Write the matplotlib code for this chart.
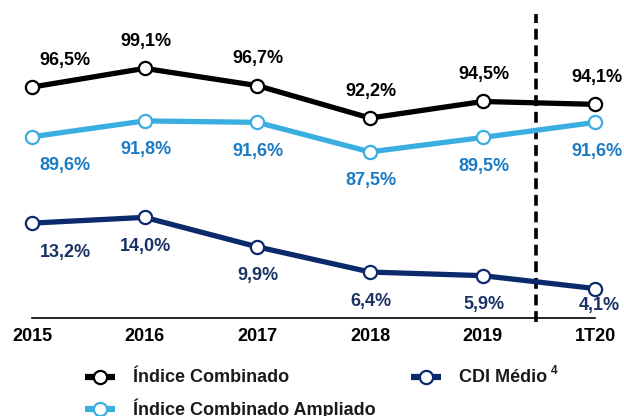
import matplotlib.pyplot as plt
from matplotlib.lines import Line2D

plt.rcParams['font.family'] = ['Liberation Sans', 'DejaVu Sans']
plt.rcParams['font.weight'] = 'bold'

periods = ["2015", "2016", "2017", "2018", "2019", "1T20"]
indice_combinado = [96.5, 99.1, 96.7, 92.2, 94.5, 94.1]
indice_ampliado = [89.6, 91.8, 91.6, 87.5, 89.5, 91.6]
cdi_medio = [13.2, 14.0, 9.9, 6.4, 5.9, 4.1]

black = "#000000"
light_blue = "#3AADE1"
light_blue_txt = "#1B7BC4"
dark_blue = "#0B2A6B"
dark_blue_txt = "#1A3366"


def fmt(v):
    return f"{v:.1f}%".replace(".", ",")


fig = plt.figure(figsize=(6.24, 4.16), dpi=100)
ax = fig.add_axes([0, 0, 1, 1])
ax.set_xlim(-0.284, 5.253)
ax.set_ylim(50.8, 108.6)
ax.axis("off")

# CDI on its own scale (same px per %, shifted down)
ax2 = ax.twinx()
ax2.set_ylim(-13.6, 44.2)
ax2.axis("off")

x = list(range(len(periods)))
line_kw = dict(lw=3.8, marker="o", ms=9.5, mfc="white", mew=1.6,
               solid_capstyle="butt", zorder=3)

ax.plot(x, indice_combinado, color=black, mec=black, **line_kw)
ax.plot(x, indice_ampliado, color=light_blue, mec=light_blue, **line_kw)
ax2.plot(x, cdi_medio, color=dark_blue, mec=dark_blue, **line_kw)

lbl_kw = dict(textcoords="offset pixels", ha="center", va="center",
              fontsize=13, fontweight="bold")
for i in x:
    dx = 33 if i == 0 else 1
    ax.annotate(fmt(indice_combinado[i]), (i, indice_combinado[i]),
                xytext=(dx, 27), color=black, **lbl_kw)
    ax.annotate(fmt(indice_ampliado[i]), (i, indice_ampliado[i]),
                xytext=(dx, -29), color=light_blue_txt, **lbl_kw)
    dy = -17 if i == len(x) - 1 else -29
    ax2.annotate(fmt(cdi_medio[i]), (i, cdi_medio[i]),
                 xytext=(dx + (3 if i == len(x) - 1 else 0), dy),
                 color=dark_blue_txt, **lbl_kw)

# baseline and period labels
base = ax.get_xaxis_transform()
ax.plot([0, 5], [0.236, 0.236], transform=base, color="black", lw=1.2,
        clip_on=False)
for i, p in enumerate(periods):
    ax.text(i, 0.19, p, transform=base, ha="center", va="center",
            fontsize=13, fontweight="bold")

# projection divider
ax.plot([4.47, 4.47], [0.226, 0.966], transform=base, color="black", lw=2.6,
        ls=(0, (3.0, 1.6)), clip_on=False)

# legend
legend_items = [
    ("Índice Combinado", black, 100, 377),
    ("Índice Combinado Ampliado", light_blue, 100, 409),
    ("CDI Médio", dark_blue, 426, 377),
]
H = 416
for name, col, cx, cy in legend_items:
    yf = 1 - cy / H
    fig.add_artist(Line2D([(cx - 15) / 624, (cx + 15) / 624], [yf, yf],
                          color=col, lw=4.5, solid_capstyle="butt"))
    fig.add_artist(Line2D([cx / 624], [yf], marker="o", ms=9.5, mfc="white",
                          mec=col, mew=1.6))
    t = fig.text((cx + 33) / 624, yf, name, ha="left", va="center",
                 fontsize=13, fontweight="bold", color="#1a1a1a")
    if name == "CDI Médio":
        ax.annotate("4", xy=(1, 0.85), xycoords=t, xytext=(4, 0),
                    textcoords="offset pixels", ha="left", va="center",
                    fontsize=8.5, fontweight="bold", color="#1a1a1a")

fig.savefig("out.png", dpi=100)
